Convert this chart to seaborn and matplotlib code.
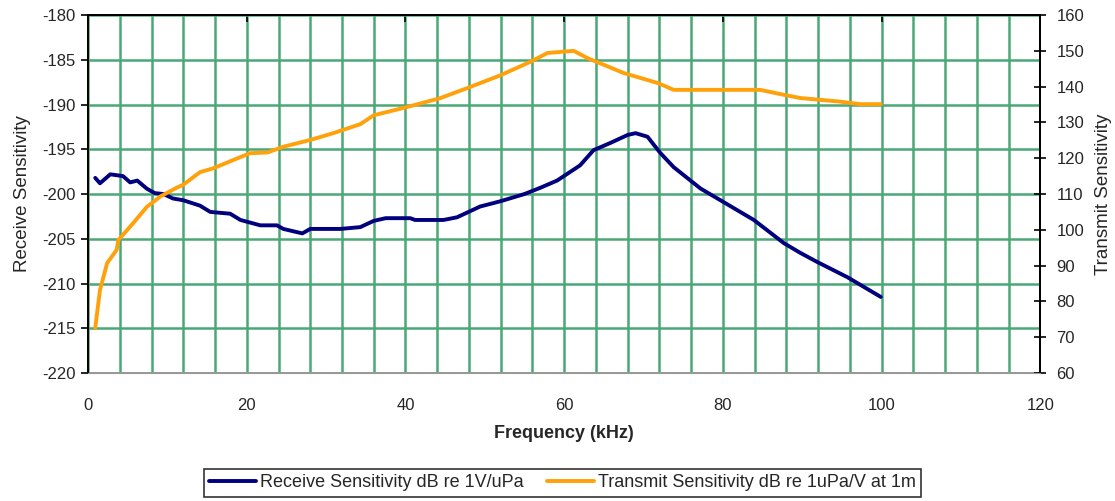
import matplotlib
matplotlib.use("Agg")
import matplotlib.pyplot as plt
import seaborn as sns
import pandas as pd
from matplotlib.ticker import MultipleLocator

# Receive sensitivity (dB re 1V/uPa) vs frequency (kHz)
rx_freq = [0.9, 1.5, 2.8, 4.4, 5.3, 6.2, 7.4, 8.4, 9.5, 10.7, 12.0, 14.1, 15.4, 17.9,
           19.2, 21.7, 23.8, 24.6, 27.0, 28.0, 31.8, 34.3, 36.0, 37.5, 40.6, 41.2, 44.8,
           46.5, 49.4, 52.0, 55.0, 57.0, 59.1, 62.0, 63.7, 65.8, 68.0, 69.0, 70.5, 72.1,
           73.8, 77.2, 79.7, 83.9, 87.7, 89.8, 91.9, 95.7, 99.9]
rx_val = [-198.2, -198.8, -197.8, -198.0, -198.7, -198.5, -199.4, -199.9, -200.0, -200.5,
          -200.7, -201.3, -202.0, -202.2, -202.9, -203.5, -203.5, -203.9, -204.4, -203.9,
          -203.9, -203.7, -203.0, -202.7, -202.7, -202.9, -202.9, -202.6, -201.4, -200.8,
          -200.0, -199.3, -198.5, -196.8, -195.1, -194.3, -193.4, -193.2, -193.6, -195.4,
          -197.0, -199.4, -200.7, -202.9, -205.5, -206.6, -207.6, -209.3, -211.5]

# Transmit sensitivity (dB re 1uPa/V at 1m) vs frequency (kHz)
tx_freq = [0.9, 1.5, 2.4, 3.6, 3.8, 5.7, 7.4, 9.1, 11.2, 12.0, 14.1, 15.8, 18.3, 20.4,
           22.6, 24.6, 28.0, 30.9, 34.3, 36.0, 40.2, 44.4, 47.8, 52.0, 55.7, 57.9, 61.2,
           62.9, 67.5, 71.8, 73.8, 77.2, 84.7, 87.7, 89.8, 92.3, 94.8, 97.3, 99.9]
tx_val = [72.6, 83.2, 90.7, 94.4, 97.1, 101.9, 106.4, 109.3, 111.8, 112.6, 116.1, 117.2,
          119.5, 121.4, 121.6, 123.2, 125.1, 127.0, 129.5, 132.0, 134.3, 136.8, 139.6,
          143.2, 146.9, 149.4, 150.0, 148.0, 143.8, 141.0, 139.1, 139.1, 139.1, 137.7,
          136.8, 136.3, 135.8, 135.1, 135.1]

rx_label = "Receive Sensitivity dB re 1V/uPa"
tx_label = "Transmit Sensitivity dB re 1uPa/V at 1m"
x_ticks = [0, 20, 40, 60, 80, 100, 120]

sns.set_style("white")
plt.rcParams['font.family'] = ['Liberation Sans', 'DejaVu Sans']
plt.rcParams['axes.unicode_minus'] = False

rx_df = pd.DataFrame({"f": rx_freq, "v": rx_val})
tx_df = pd.DataFrame({"f": tx_freq, "v": tx_val})

fig = plt.figure(figsize=(11.15, 5.01), dpi=100)
ax = fig.add_axes([0.079, 0.2555, 0.854, 0.7145])
ax2 = ax.twinx()

grid_c = "#4aa876"
ax.set_xlim(0, 120)
ax.set_ylim(-220, -180)
ax2.set_ylim(60, 160)
ax.xaxis.set_minor_locator(MultipleLocator(4))
ax.set_xticks(x_ticks)
ax.set_yticks(range(-220, -179, 5))
ax2.set_yticks(range(60, 161, 10))
ax.grid(True, which="both", axis="x", color=grid_c, lw=1.8)
ax.grid(True, which="major", axis="y", color=grid_c, lw=1.8)
ax.set_axisbelow(True)

sns.lineplot(data=rx_df, x="f", y="v", ax=ax, color="#00007f", lw=2.8, label=rx_label, legend=False)
sns.lineplot(data=tx_df, x="f", y="v", ax=ax2, color="#ffa10a", lw=2.8, label=tx_label, legend=False)

for s in ["left", "top", "right"]:
    ax.spines[s].set_color("black")
    ax.spines[s].set_linewidth(1.3)
    ax2.spines[s].set_color("black")
    ax2.spines[s].set_linewidth(1.3)
ax.spines["bottom"].set_color("#999999")
ax2.spines["bottom"].set_color("#999999")
ax.spines["bottom"].set_linewidth(1.3)

ax.tick_params(axis="x", which="major", bottom=False, top=True, labelbottom=True,
               direction="in", length=5, width=1.2, color="black", labelsize=12, pad=18)
ax.tick_params(axis="x", which="minor", bottom=False, top=False)
ax.tick_params(axis="y", left=True, direction="out", length=5, width=1.2, color="black",
               labelsize=12, pad=4)
ax2.tick_params(axis="y", right=True, direction="inout", length=9, width=1.2, color="black",
                labelsize=12, pad=7)

ax.set_xlabel("Frequency (kHz)", fontsize=13, fontweight="bold", labelpad=9)
ax.set_ylabel("Receive Sensitivity", fontsize=13.5, labelpad=8)
ax2.set_ylabel("Transmit Sensitivity", fontsize=13.5, labelpad=8)

h1, l1 = ax.get_legend_handles_labels()
h2, l2 = ax2.get_legend_handles_labels()
leg = fig.legend(h1 + h2, l1 + l2, loc="center", bbox_to_anchor=(0.5045, 0.036), ncol=2,
                 fontsize=13, frameon=True, fancybox=False, edgecolor="black",
                 handlelength=2.6, handletextpad=0.2, columnspacing=1.3, borderpad=0.3)
leg.get_frame().set_linewidth(1.2)

fig.savefig("out.png", dpi=100)
